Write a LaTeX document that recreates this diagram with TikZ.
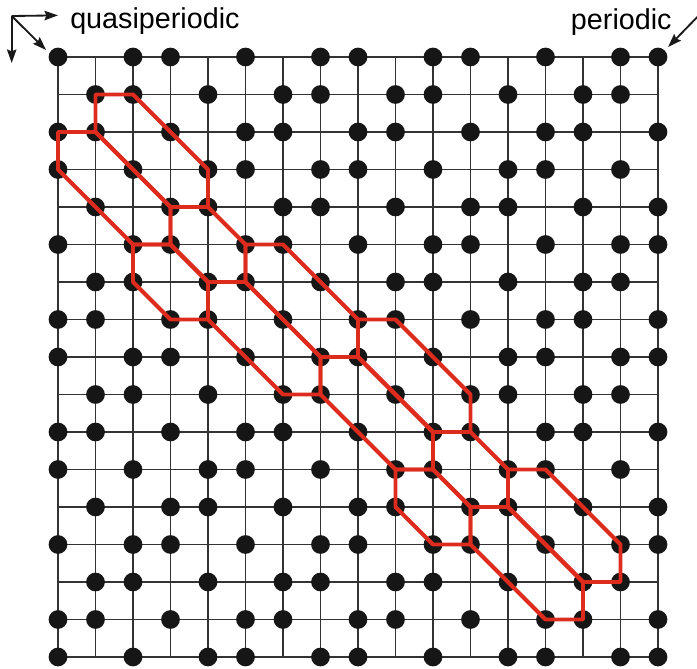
\documentclass[tikz,border=0pt]{standalone}
\usepackage{fontspec}
\setmainfont{Liberation Sans}
\usetikzlibrary{arrows.meta}
\definecolor{bandred}{RGB}{221,44,30}
\definecolor{dotblack}{RGB}{22,22,22}
\begin{document}
\begin{tikzpicture}[
    gridline/.style={line width=1.3pt, black!80},
    site/.style={fill=dotblack},
    band/.style={draw=bandred, line width=3pt, line join=round},
    pointer/.style={-{Stealth[length=3.6mm,width=2.5mm,inset=0.5mm]}, line width=1.4pt, black!90},
    label/.style={font=\fontsize{21.8}{26}\selectfont, inner sep=0pt}
  ]
  \useasboundingbox (-1.547,1.52) rectangle (17.04,-16.32);
  % square lattice
  \draw[gridline] (0,0) grid (16,-16);
  % occupied sites, row by row
  \foreach \row/\cols in {
      0/{0,2,3,5,7,8,10,11,13,15,16},
      1/{1,2,4,6,7,9,10,12,14,15},
      2/{0,1,3,5,6,8,9,11,13,14,16},
      3/{0,2,4,5,7,8,10,12,13,15},
      4/{1,3,4,6,7,9,11,12,14,16},
      5/{0,2,3,5,6,8,10,11,13,15,16},
      6/{1,2,4,5,7,9,10,12,14,15},
      7/{0,1,3,4,6,8,9,11,13,14,16},
      8/{0,2,3,5,7,8,10,12,13,15,16},
      9/{1,2,4,6,7,9,11,12,14,15},
      10/{0,1,3,5,6,8,10,11,13,14,16},
      11/{0,2,4,5,7,9,10,12,13,15},
      12/{1,3,4,6,8,9,11,12,14,16},
      13/{0,2,3,5,7,8,10,11,13,15,16},
      14/{1,2,4,6,7,9,10,12,14,15},
      15/{0,1,3,5,6,8,9,11,13,14,16},
      16/{0,2,4,5,7,8,10,12,13,15,16}}
    \foreach \col in \cols
      \fill[site] (\col,-\row) circle (0.25);
  % long cells along the diagonal
  \foreach \a/\b in {1/1, 0/2, 5/5, 4/6, 8/7, 7/8, 12/11, 11/12}
    \draw[band] (\a,-\b) -- ++(1,0) -- ++(2,-2) -- ++(0,-1) -- ++(-1,0) -- ++(-2,2) -- cycle;
  % short cells
  \foreach \a/\b in {3/4, 2/5, 10/10, 9/11}
    \draw[band] (\a,-\b) -- ++(1,0) -- ++(1,-1) -- ++(0,-1) -- ++(-1,0) -- ++(-1,1) -- cycle;
  % define point
  \coordinate (axO) at (-1.235,1.093);
  \coordinate (axX) at (0,1.11);
  \coordinate (axY) at (-1.235,-0.16);
  \coordinate (axD) at (-0.32,0.187);
  \coordinate (periS) at (17.1,1.12);
  \coordinate (periT) at (16.27,0.267);
  % labels
  \node[label, anchor=base west] (quasi) at (0.32,0.76) {quasiperiodic};
  \node[label, anchor=base east] (peri) at (16.37,0.74) {periodic};
  % arrows
  \draw[pointer] (axO) -- (axX);
  \draw[pointer] (axO) -- (axY);
  \draw[pointer] (axO) -- (axD);
  \draw[pointer] (periS) -- (periT);
\end{tikzpicture}
\end{document}
